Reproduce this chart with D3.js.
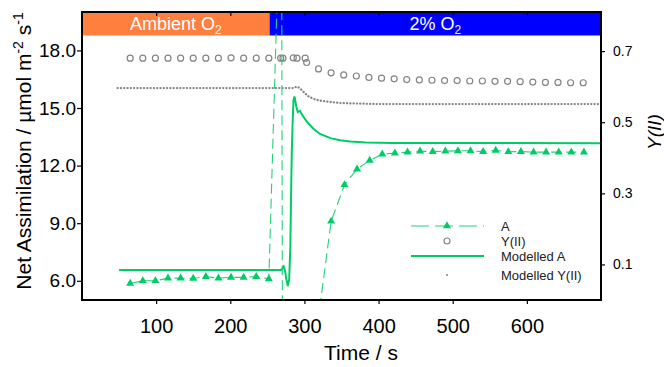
<!DOCTYPE html>
<html>
<head>
<meta charset="utf-8">
<script src="https://cdn.jsdelivr.net/npm/d3@7"></script>
<style>
  body { margin: 0; background: #fff; }
  text { font-family: "Liberation Sans", Arial, sans-serif; }
</style>
</head>
<body>
<div id="chart"></div>
<script>
// measured net assimilation A (umol m-2 s-1), points far outside the frame are clipped
const aTime  = [65, 82, 99, 116, 133, 150, 167, 184, 201, 218, 235, 252, 269, 286, 303, 320,
                336, 354, 371, 388, 405, 422, 439, 456, 473, 490, 507, 524, 541, 558, 575, 592, 609, 626, 643, 660, 677];
const aValue = [5.86, 6.0, 6.0, 6.14, 6.14, 6.12, 6.22, 6.14, 6.18, 6.18, 6.22, 6.1, 28.2, -290, -20, 4.4,
                9.1, 11.0, 11.82, 12.27, 12.6, 12.65, 12.7, 12.75, 12.73, 12.75, 12.77, 12.77, 12.73, 12.79, 12.72, 12.73, 12.7, 12.7, 12.7, 12.7, 12.7];
// which A points are shown with a triangle (the ones inside the frame)
const aMarked = [1, 1, 1, 1, 1, 1, 1, 1, 1, 1, 1, 1, 0, 0, 0, 0,
                 1, 1, 1, 1, 1, 1, 1, 1, 1, 1, 1, 1, 1, 1, 1, 1, 1, 1, 1, 1, 1];

// measured Y(II)
const yiiTime  = [65, 82, 99, 116, 133, 150, 167, 184, 201, 218, 235, 252, 268, 271, 285, 290, 301, 303,
                  319, 336, 353, 370, 387, 404, 421, 438, 455, 472, 489, 506, 523, 540, 557, 574, 591, 608, 625, 642, 659, 676];
const yiiValue = [0.680, 0.680, 0.680, 0.680, 0.680, 0.680, 0.680, 0.680, 0.681, 0.680, 0.680, 0.680, 0.680, 0.680, 0.681, 0.680, 0.680, 0.668,
                  0.650, 0.639, 0.633, 0.630, 0.626, 0.624, 0.622, 0.620, 0.619, 0.618, 0.617, 0.617, 0.616, 0.616, 0.615, 0.615, 0.614, 0.613, 0.612, 0.612, 0.611, 0.611];

// modelled A
const modATime  = [50, 268, 270, 272, 274, 275.5, 277.6, 279.5, 281, 282, 283, 284, 285.2, 286.6, 289, 291, 294, 297, 303, 312, 321, 335, 348, 362, 383, 420, 700];
const modAValue = [6.56, 6.56, 6.62, 6.74, 6.5, 6.1, 5.73, 6.1, 7.8, 10.5, 12.8, 14.1, 15.4, 15.6, 15.08, 14.79, 14.85, 14.64, 14.3, 13.92, 13.65, 13.43, 13.32, 13.25, 13.2, 13.18, 13.17];

// modelled Y(II)
const modYTime  = [48, 285, 289.8, 293, 296.5, 301.5, 306, 312, 320, 334.7, 348, 362, 400, 700];
const modYValue = [0.596, 0.596, 0.600, 0.597, 0.590, 0.580, 0.572, 0.566, 0.561, 0.557, 0.554, 0.553, 0.551, 0.551];

// oxygen phases shown in the top band
const phaseLabels = ["Ambient O", "2% O"];
const phaseStart  = [0, 253];
const phaseEnd    = [253, 700];
const phaseColors = ["#ff7f3f", "#0000ff"];

const xTicks  = [100, 200, 300, 400, 500, 600];
const yTicks  = [6, 9, 12, 15, 18];
const y2Ticks = [0.1, 0.3, 0.5, 0.7];

const legendLabels = ["A", "Y(II)", "Modelled A", "Modelled Y(II)"];

const width = 664;
const height = 367;
const margin = { top: 12, right: 63, left: 82, bottom: 67 };
const w = width - margin.left - margin.right;
const h = height - margin.top - margin.bottom;

const green = "#00cc66";
const lineGreen = "#22d27a";
const grey = "#858585";

const svg = d3.select("#chart")
    .append("svg")
    .attr("width", width)
    .attr("height", height);

const g = svg.append("g")
    .attr("transform", `translate(${margin.left},${margin.top})`);

const x = d3.scaleLinear().domain([0, 700]).range([0, w]);
const y = d3.scaleLinear().domain([5, 20]).range([h, 0]);
const y2 = d3.scaleLinear().domain([0, 0.81]).range([h, 0]);

g.append("clipPath").attr("id", "frame")
    .append("rect").attr("width", w).attr("height", h);

// O2 band
const bandH = 23.5;
const phases = phaseLabels.map((d, i) => ({ label: d, start: phaseStart[i], end: phaseEnd[i], color: phaseColors[i] }));
g.selectAll("rect.band")
    .data(phases)
    .enter()
    .append("rect")
    .attr("class", "band")
    .attr("x", d => x(d.start))
    .attr("y", 0)
    .attr("width", d => x(d.end) - x(d.start))
    .attr("height", bandH)
    .attr("fill", d => d.color);

const bandText = g.selectAll("text.band")
    .data(phases)
    .enter()
    .append("text")
    .attr("class", "band")
    .attr("x", d => (x(d.start) + x(d.end)) / 2)
    .attr("y", 17.5)
    .attr("text-anchor", "middle")
    .attr("fill", "white")
    .attr("font-size", "18px")
    .text(d => d.label);
bandText.append("tspan")
    .attr("dy", 4)
    .attr("font-size", "12px")
    .text("2");

const plot = g.append("g").attr("clip-path", "url(#frame)");

// modelled Y(II) as a dotted trace
const modY = modYTime.map((t, i) => [t, modYValue[i]]);
plot.append("path")
    .datum(modY)
    .attr("fill", "none")
    .attr("stroke", grey)
    .attr("stroke-width", 2.3)
    .attr("stroke-linecap", "round")
    .attr("stroke-dasharray", "0.1,3.2")
    .attr("d", d3.line().x(d => x(d[0])).y(d => y2(d[1])));

// Y(II) circles
const yii = yiiTime.map((t, i) => [t, yiiValue[i]]);
plot.selectAll("circle.yii")
    .data(yii)
    .enter()
    .append("circle")
    .attr("class", "yii")
    .attr("cx", d => x(d[0]))
    .attr("cy", d => y2(d[1]))
    .attr("r", 3)
    .attr("fill", "none")
    .attr("stroke", grey)
    .attr("stroke-width", 1.2);

// modelled A
const modA = modATime.map((t, i) => [t, modAValue[i]]);
plot.append("path")
    .datum(modA)
    .attr("fill", "none")
    .attr("stroke", green)
    .attr("stroke-width", 2)
    .attr("d", d3.line().x(d => x(d[0])).y(d => y(d[1])));

// measured A, dashed
const aData = aTime.map((t, i) => [t, aValue[i], aMarked[i]]);
plot.append("path")
    .datum(aData)
    .attr("fill", "none")
    .attr("stroke", lineGreen)
    .attr("stroke-width", 1.1)
    .attr("stroke-dasharray", "10,5")
    .attr("d", d3.line().x(d => x(d[0])).y(d => y(d[1])));

const tri = d3.symbol().type(d3.symbolTriangle).size(28);
plot.selectAll("path.tri")
    .data(aData.filter(d => d[2]))
    .enter()
    .append("path")
    .attr("class", "tri")
    .attr("transform", d => `translate(${x(d[0])},${y(d[1])})`)
    .attr("d", tri)
    .attr("fill", green);

// axes
const xAxis = g.append("g")
    .attr("transform", `translate(0,${h})`)
    .call(d3.axisBottom(x).tickValues(xTicks).tickSize(4).tickPadding(15).tickFormat(d3.format("d")));
const xTop = g.append("g")
    .call(d3.axisTop(x).tickValues(xTicks).tickSize(-4).tickFormat(""));
const yAxis = g.append("g")
    .call(d3.axisLeft(y).tickValues(yTicks).tickSize(5).tickPadding(1).tickFormat(d3.format(".1f")));
const y2Axis = g.append("g")
    .attr("transform", `translate(${w},0)`)
    .call(d3.axisRight(y2).tickValues(y2Ticks).tickSize(4).tickPadding(8).tickFormat(d3.format(".1f")));

[xAxis, xTop, yAxis, y2Axis].forEach(a => {
    a.select(".domain").remove();
    a.selectAll(".tick line").attr("stroke", "black").attr("stroke-width", 1.2);
    a.selectAll("text").attr("fill", "black").style("font-family", "Liberation Sans, Arial, sans-serif");
});
xAxis.selectAll("text").attr("font-size", "20px");
yAxis.selectAll("text").attr("font-size", "19px");
y2Axis.selectAll("text").attr("font-size", "14px");

// frame
g.append("rect")
    .attr("width", w)
    .attr("height", h)
    .attr("fill", "none")
    .attr("stroke", "black")
    .attr("stroke-width", 2);

// axis titles
svg.append("text")
    .attr("x", 361)
    .attr("y", 360)
    .attr("text-anchor", "middle")
    .attr("font-size", "21px")
    .text("Time / s");

const yTitle = svg.append("text")
    .attr("transform", "translate(31,151) rotate(-90)")
    .attr("text-anchor", "middle")
    .attr("font-size", "21px");
yTitle.append("tspan").text("Net Assimilation / \u00b5mol m");
yTitle.append("tspan").attr("dy", -8).attr("font-size", "14px").text("-2");
yTitle.append("tspan").attr("dy", 8).text(" s");
yTitle.append("tspan").attr("dy", -8).attr("font-size", "14px").text("-1");

svg.append("text")
    .attr("transform", "translate(661,132) rotate(-90)")
    .attr("text-anchor", "middle")
    .attr("font-size", "19px")
    .attr("font-style", "italic")
    .text("Y(II)");

// legend
const legendRows = [226, 241, 256, 275];
const legend = svg.append("g");
legendLabels.forEach((label, i) => {
    const ly = legendRows[i];
    if (i === 0) {
        legend.append("line").attr("x1", 411).attr("x2", 484).attr("y1", ly).attr("y2", ly)
            .attr("stroke", lineGreen).attr("stroke-width", 1.1).attr("stroke-dasharray", "18,6");
        legend.append("path").attr("transform", `translate(447,${ly})`).attr("d", tri).attr("fill", green);
    } else if (i === 1) {
        legend.append("circle").attr("cx", 447).attr("cy", ly).attr("r", 3)
            .attr("fill", "none").attr("stroke", grey).attr("stroke-width", 1.2);
    } else if (i === 2) {
        legend.append("line").attr("x1", 411).attr("x2", 484).attr("y1", ly).attr("y2", ly)
            .attr("stroke", green).attr("stroke-width", 2);
    } else {
        legend.append("circle").attr("cx", 447).attr("cy", ly).attr("r", 1).attr("fill", grey);
    }
    legend.append("text")
        .attr("x", 501)
        .attr("y", ly + 4.5)
        .attr("font-size", "13px")
        .attr("fill", "#222")
        .text(label);
});
</script>
</body>
</html>
